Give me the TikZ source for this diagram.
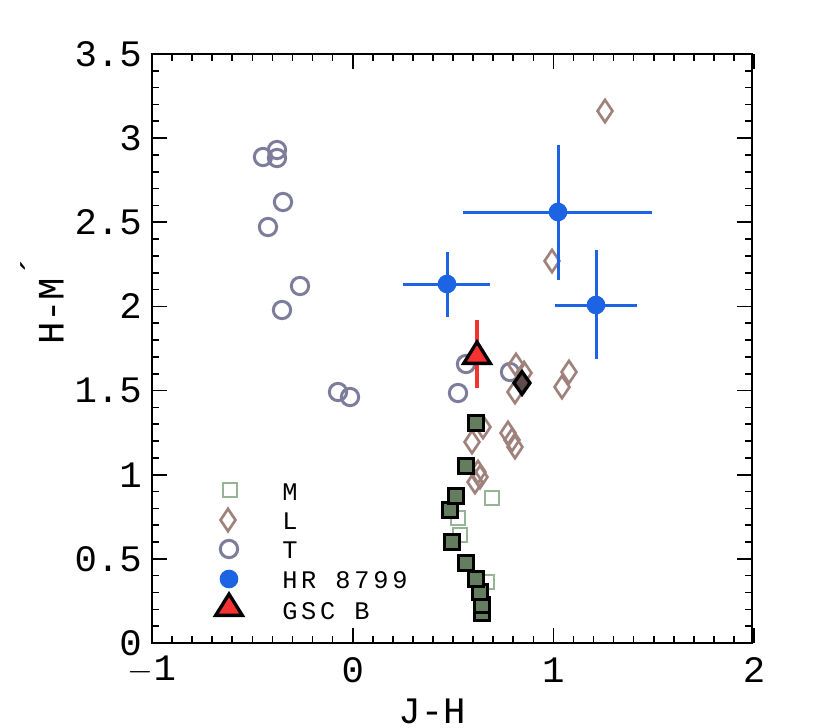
\documentclass[tikz,border=0pt]{standalone}
\usepackage{fontspec}
\setmainfont{Liberation Mono}
\usetikzlibrary{shapes.geometric}
\definecolor{tcol}{RGB}{125,125,155}
\definecolor{lcol}{RGB}{160,130,125}
\definecolor{mcol}{RGB}{150,180,150}
\definecolor{sqfill}{RGB}{100,125,95}
\definecolor{dkd}{RGB}{95,75,75}
\definecolor{bluec}{RGB}{28,100,228}
\definecolor{redc}{RGB}{245,50,50}
\tikzset{
 tmark/.style={circle,draw=tcol,line width=2.25pt,minimum size=13pt,inner sep=0pt},
 lmark/.style={diamond,draw=lcol,line width=2pt,minimum width=12pt,minimum height=17.5pt,inner sep=0pt},
 mmark/.style={rectangle,draw=mcol,line width=2pt,minimum size=10.5pt,inner sep=0pt},
 smark/.style={rectangle,draw=black,fill=sqfill,line width=2.5pt,minimum size=11.5pt,inner sep=0pt},
 dmark/.style={diamond,draw=black,fill=dkd,line width=2.5pt,minimum width=13pt,minimum height=18pt,inner sep=0pt},
 bmark/.style={circle,fill=bluec,minimum size=14pt,inner sep=0pt},
 ebar/.style={draw=bluec,line width=2.25pt},
 gmark/.style={isosceles triangle,isosceles triangle apex angle=64,shape border rotate=90,draw=black,fill=redc,line width=2.5pt,minimum width=20pt,minimum height=15pt,inner sep=0pt},
 ticklab/.style={font=\fontsize{28}{30}\selectfont,inner sep=0pt},
 leglab/.style={font=\fontsize{19}{21}\selectfont\addfontfeature{LetterSpace=15},anchor=west,inner sep=0pt},
}
\begin{document}
\begin{tikzpicture}[x=0.75pt,y=-0.75pt]
\useasboundingbox (0,0) rectangle (830,727);
% ticks
\foreach \i in {0,...,30}{
  \pgfmathsetmacro\xx{152+20.07*\i}
  \pgfmathsetmacro\tl{mod(\i,10)==0?15:7}
  \draw[line width=1.2pt] (\xx,643) -- ++(0,-\tl);
  \draw[line width=1.2pt] (\xx,54) -- ++(0,\tl);
}
\foreach \i in {0,...,35}{
  \pgfmathsetmacro\yy{643-16.83*\i}
  \pgfmathsetmacro\tl{mod(\i,5)==0?15:7}
  \draw[line width=1.2pt] (152,\yy) -- ++(\tl,0);
  \draw[line width=1.2pt] (752,\yy) -- ++(-\tl,0);
}
\draw[line width=1.5pt] (152,54) rectangle (752,643);
% tick labels
\foreach \v/\x in {{$-$1}/152,0/352.7,1/553.4,2/754}
  \node[ticklab] (xl\x) at (\x,670) {\v};
\foreach \v/\y in {0/643,0.5/558.9,1/474.7,1.5/390.6,2/306.4,2.5/222.3,3/138.1,3.5/54}
  \node[ticklab,anchor=east] (yl\v) at (142,\y) {\v};
\node[ticklab] (xt) at (432,711) {J-H};
\node[ticklab,rotate=90] (yt) at (42,300) {H-M\raisebox{0.45em}{´}};
% T
\foreach \x/\y [count=\k] in {263/157,277/150,277/158,283/202,268/227,300/286,282/310,338/392,350/397,458/393,466/364,510/372}
  \node[tmark] (t\k) at (\x,\y) {};
% M
\foreach \x/\y [count=\k] in {492/498,458/518,460/535,487/582}
  \node[mmark] (m\k) at (\x,\y) {};
% L
\foreach \x/\y [count=\k] in {605/111,552/261,516/365,524/373,515/392,569/372,562/387,483/427,472/442,508/433,512/440,515/447,478/472,475/482,480/477}
  \node[lmark] (l\k) at (\x,\y) {};
% filled squares
\foreach \x/\y [count=\k] in {482/613,482/605,480/592,476/579,466/563,452/542,450/510,456/496,466/466,476/423}
  \node[smark] (s\k) at (\x,\y) {};
\node[dmark] (dk) at (522,383) {};
% HR 8799
\coordinate (e1a) at (403,284); \coordinate (e1b) at (490,284);
\coordinate (e1c) at (447,252); \coordinate (e1d) at (447,317);
\draw[ebar] (e1a) -- (e1b) (e1c) -- (e1d);
\node[bmark] (b1) at (447,284) {};
\coordinate (e2a) at (463,212); \coordinate (e2b) at (652,212);
\coordinate (e2c) at (558,145); \coordinate (e2d) at (558,280);
\draw[ebar] (e2a) -- (e2b) (e2c) -- (e2d);
\node[bmark] (b2) at (558,212) {};
\coordinate (e3a) at (555,305); \coordinate (e3b) at (637,305);
\coordinate (e3c) at (596,250); \coordinate (e3d) at (596,359);
\draw[ebar] (e3a) -- (e3b) (e3c) -- (e3d);
\node[bmark] (b3) at (596,305) {};
% GSC B
\coordinate (ra) at (477,320); \coordinate (rb) at (477,388);
\draw[draw=redc,line width=3pt] (ra) -- (rb);
\node[gmark] (g) at (477,356) {};
% legend
\node[mmark] (lgm) at (230,490) {};
\node[lmark] (lgl) at (228,520) {};
\node[tmark] (lgt) at (229,549) {};
\node[bmark] (lgb) at (229,579) {};
\node[gmark] (lgg) at (229,608) {};
\node[leglab] (tm) at (282,492) {M};
\node[leglab] (tl) at (282,521) {L};
\node[leglab] (tt) at (282,550) {T};
\node[leglab] (th) at (282,580) {HR 8799};
\node[leglab] (tg) at (282,611) {GSC B};
\end{tikzpicture}
\end{document}
